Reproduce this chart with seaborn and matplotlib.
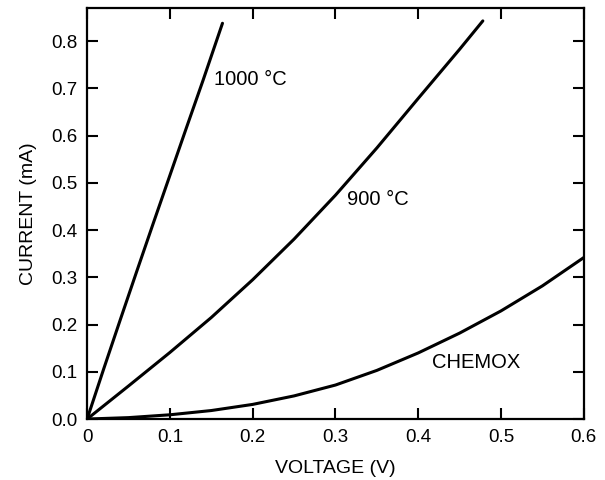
import seaborn as sns
import pandas as pd
import matplotlib
matplotlib.use('Agg')
import matplotlib.pyplot as plt

# curves (V in volts, I in mA)
v_1000 = [0.0, 0.02, 0.04, 0.06, 0.08, 0.10, 0.12, 0.14, 0.1635]
i_1000 = [0.0, 0.106, 0.210, 0.313, 0.415, 0.516, 0.617, 0.717, 0.838]

v_900 = [0.0, 0.05, 0.10, 0.15, 0.20, 0.25, 0.30, 0.35, 0.40, 0.45, 0.478]
i_900 = [0.0, 0.070, 0.141, 0.215, 0.295, 0.381, 0.474, 0.574, 0.679, 0.783, 0.843]

v_chemox = [0.0, 0.05, 0.10, 0.15, 0.20, 0.25, 0.30, 0.35, 0.40, 0.45, 0.50, 0.55, 0.60]
i_chemox = [0.0, 0.003, 0.009, 0.018, 0.031, 0.049, 0.072, 0.103, 0.140, 0.182, 0.229, 0.282, 0.342]

labels = ['1000 °C', '900 °C', 'CHEMOX']

df = pd.concat([
    pd.DataFrame({'V': v_1000, 'I': i_1000, 'curve': labels[0]}),
    pd.DataFrame({'V': v_900, 'I': i_900, 'curve': labels[1]}),
    pd.DataFrame({'V': v_chemox, 'I': i_chemox, 'curve': labels[2]}),
])

sns.set_style('ticks')
plt.rcParams['font.family'] = ['Liberation Sans', 'DejaVu Sans']
plt.rcParams['text.color'] = 'black'
plt.rcParams['axes.labelcolor'] = 'black'

fig = plt.figure(figsize=(6.05, 4.80), dpi=100)
ax = fig.add_axes([0.144, 0.127, 0.821, 0.856])

sns.lineplot(data=df, x='V', y='I', units='curve', estimator=None, sort=False,
             color='black', lw=2.2, ax=ax)

ax.set_xlim(0, 0.6)
ax.set_ylim(0, 0.87)
ax.set_xticks([0, 0.1, 0.2, 0.3, 0.4, 0.5, 0.6])
ax.set_xticklabels(['0', '0.1', '0.2', '0.3', '0.4', '0.5', '0.6'])
ax.set_yticks([0, 0.1, 0.2, 0.3, 0.4, 0.5, 0.6, 0.7, 0.8])
ax.set_yticklabels(['0.0', '0.1', '0.2', '0.3', '0.4', '0.5', '0.6', '0.7', '0.8'])
ax.tick_params(direction='in', top=True, right=True, length=8, width=1.5,
               labelsize=13.5, colors='black', pad=7)
for s in ax.spines.values():
    s.set_linewidth(1.6)
    s.set_color('black')

ax.set_xlabel('VOLTAGE (V)', fontsize=14, labelpad=10)
ax.set_ylabel('CURRENT (mA)', fontsize=14, labelpad=10)

ax.text(0.153, 0.72, labels[0], fontsize=14.5, va='center')
ax.text(0.314, 0.465, labels[1], fontsize=14.5, va='center')
ax.text(0.417, 0.119, labels[2], fontsize=14.5, va='center')

fig.savefig('out.png', dpi=100)
